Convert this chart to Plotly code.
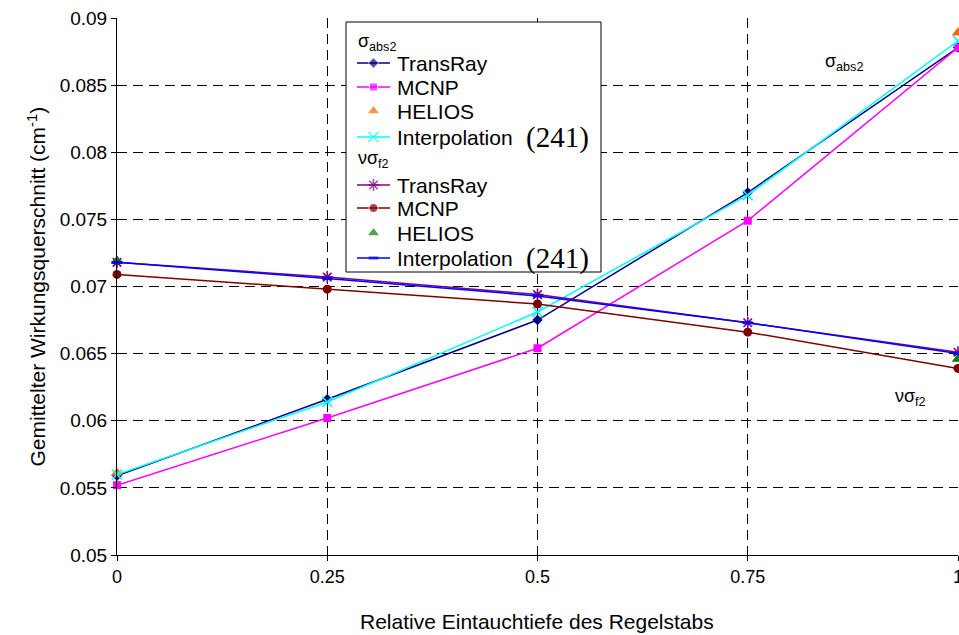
import plotly.graph_objects as go

# ---- data ----
x = [0, 0.25, 0.5, 0.75, 1]
x_helios = [0, 1]

abs_transray = [0.0559, 0.0616, 0.0675, 0.0770, 0.0878]
abs_mcnp = [0.0552, 0.0602, 0.0654, 0.0749, 0.0878]
abs_helios = [0.0561, 0.0889]
abs_interp = [0.0560, 0.0614, 0.0681, 0.0768, 0.0883]

nf_transray = [0.0718, 0.0707, 0.0694, 0.0673, 0.0651]
nf_mcnp = [0.0709, 0.0698, 0.0687, 0.0666, 0.0639]
nf_helios = [0.0719, 0.0646]
nf_interp = [0.0718, 0.0706, 0.0693, 0.0673, 0.0650]

x_ticks = [0, 0.25, 0.5, 0.75, 1]
x_ticktext = ["0", "0.25", "0.5", "0.75", "1"]
y_ticks = [0.05, 0.055, 0.06, 0.065, 0.07, 0.075, 0.08, 0.085, 0.09]
y_ticktext = ["0.05", "0.055", "0.06", "0.065", "0.07", "0.075", "0.08", "0.085", "0.09"]

legend_labels = ["TransRay", "MCNP", "HELIOS", "Interpolation"]
group_titles = ["σ<sub>abs2</sub>", "νσ<sub>f2</sub>"]
ref_label = "(241)"

# ---- styles ----
styles_abs = [
    dict(color="#000080", symbol="diamond", size=8, line=True),
    dict(color="#FF00FF", symbol="square", size=8, line=True),
    dict(color="#FF6600", symbol="triangle-up", size=11, line=False),
    dict(color="#00FFFF", symbol="x-thin-open", size=10, line=True),
]
styles_nf = [
    dict(color="#800080", symbol="asterisk-open", size=10, line=True),
    dict(color="#800000", symbol="circle", size=9, line=True),
    dict(color="#008000", symbol="triangle-up", size=11, line=False),
    dict(color="#0000FF", symbol="line-ew-open", size=7, line=True),
]

def marker_for(st, size=None):
    s = st["size"] if size is None else size
    m = dict(symbol=st["symbol"], size=s, color=st["color"])
    if st["symbol"].endswith("open"):
        w = 3 if st["symbol"] == "line-ew-open" else 1.6
        m["line"] = dict(color=st["color"], width=w)
    return m

fig = go.Figure()

series = [
    (x, abs_transray, styles_abs[0]), (x, abs_mcnp, styles_abs[1]),
    (x_helios, abs_helios, styles_abs[2]), (x, abs_interp, styles_abs[3]),
    (x, nf_transray, styles_nf[0]), (x, nf_mcnp, styles_nf[1]),
    (x_helios, nf_helios, styles_nf[2]), (x, nf_interp, styles_nf[3]),
]
for xs, ys, st in series:
    fig.add_trace(go.Scatter(
        x=xs, y=ys, mode="lines+markers" if st["line"] else "markers",
        line=dict(color=st["color"], width=1.5), marker=marker_for(st),
        cliponaxis=False, showlegend=False, hoverinfo="skip"))

# ---- manual legend (overlay axes in plot-area fraction units) ----
def fx(px):
    return (px - 117) / 841.0

def fy(py):
    return (555 - py) / 537.0

box_l, box_r, box_t, box_b = fx(346), fx(601), fy(22), fy(272)
fig.add_trace(go.Scatter(
    x=[box_l, box_r, box_r, box_l, box_l], y=[box_t, box_t, box_b, box_b, box_t],
    xaxis="x2", yaxis="y2", mode="lines", fill="toself", fillcolor="white",
    line=dict(color="black", width=1), showlegend=False, hoverinfo="skip"))

title_rows = [42, 159]
item_rows = [[63, 87, 111, 137], [185, 208, 233, 258]]
sym_x0, sym_xm, sym_x1 = fx(357), fx(373.5), fx(390)
text_x = fx(395)
ref_x = fx(524)

for gi, styles in enumerate([styles_abs, styles_nf]):
    fig.add_annotation(xref="x2", yref="y2", x=fx(356), y=fy(title_rows[gi]),
                       text=group_titles[gi], showarrow=False, xanchor="left",
                       yanchor="middle", font=dict(size=18, color="black"))
    for ri, st in enumerate(styles):
        yy = fy(item_rows[gi][ri])
        fig.add_trace(go.Scatter(
            x=[sym_x0, sym_xm, sym_x1], y=[yy, yy, yy], xaxis="x2", yaxis="y2",
            mode="lines+markers" if st["line"] else "markers",
            line=dict(color=st["color"], width=1.5),
            marker=dict(marker_for(st), size=[0, st["size"], 0]),
            showlegend=False, hoverinfo="skip"))
        fig.add_annotation(xref="x2", yref="y2", x=text_x, y=yy, text=legend_labels[ri],
                           showarrow=False, xanchor="left", yanchor="middle",
                           font=dict(size=21, color="black"))
        if legend_labels[ri] == "Interpolation":
            fig.add_annotation(xref="x2", yref="y2", x=ref_x, y=yy, text=ref_label,
                               showarrow=False, xanchor="left", yanchor="middle",
                               font=dict(size=29, color="black",
                                         family="Liberation Serif, Times New Roman"))

# ---- in-plot labels ----
fig.add_annotation(x=0.8395, y=0.08665, text="σ<sub>abs2</sub>", showarrow=False,
                   xanchor="left", yanchor="middle", font=dict(size=18, color="black"))
fig.add_annotation(x=0.9227, y=0.0617, text="νσ<sub>f2</sub>", showarrow=False,
                   xanchor="left", yanchor="middle", font=dict(size=18, color="black"))

# ---- axis titles ----
fig.add_annotation(xref="paper", yref="paper", x=fx(537), y=fy(621),
                   text="Relative Eintauchtiefe des Regelstabs", showarrow=False,
                   xanchor="center", yanchor="middle", font=dict(size=21, color="black"))
fig.add_annotation(xref="paper", yref="paper", x=fx(36), y=0.5,
                   text="Gemittelter Wirkungsquerschnitt (cm<sup>-1</sup>)", showarrow=False,
                   textangle=-90, xanchor="center", yanchor="middle",
                   font=dict(size=21, color="black"))

grid = dict(showgrid=True, gridcolor="black", griddash="10px,6px", gridwidth=1,
            showline=True, linecolor="black", linewidth=1,
            ticks="outside", ticklen=5, tickcolor="black", zeroline=False, automargin=False,
            ticklabeloverflow="allow")

fig.update_layout(
    width=959, height=635,
    margin=dict(l=117, r=1, t=18, b=80, autoexpand=False),
    paper_bgcolor="white", plot_bgcolor="white",
    font=dict(family="Liberation Sans, Arial", size=18, color="black"),
    showlegend=False,
    xaxis=dict(range=[0, 1], tickvals=x_ticks, ticktext=x_ticktext,
               tickfont=dict(size=18), **grid),
    yaxis=dict(range=[0.05, 0.09], tickvals=y_ticks, ticktext=y_ticktext,
               tickfont=dict(size=19), **grid),
    xaxis2=dict(overlaying="x", range=[0, 1], visible=False, fixedrange=True),
    yaxis2=dict(overlaying="y", range=[0, 1], visible=False, fixedrange=True),
)

fig.write_html("out.html", config={"displayModeBar": False, "staticPlot": True},
               post_script="document.body.style.margin='0';document.body.style.overflow='hidden';")
